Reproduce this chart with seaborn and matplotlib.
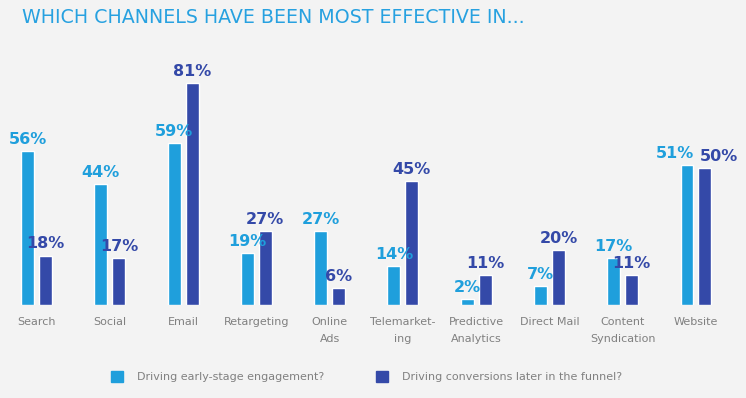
import pandas as pd
import matplotlib.pyplot as plt
import seaborn as sns

channels = ["Search", "Social", "Email", "Retargeting", "Online\nAds", "Telemarket-\ning",
            "Predictive\nAnalytics", "Direct Mail", "Content\nSyndication", "Website"]
early = [56, 44, 59, 19, 27, 14, 2, 7, 17, 51]
later = [18, 17, 81, 27, 6, 45, 11, 20, 11, 50]
series = ["Driving early-stage engagement?", "Driving conversions later in the funnel?"]

light = "#1f9fdc"
dark = "#3449a8"
bg = "#f3f3f3"
grey = "#808080"

df = pd.DataFrame({
    "channel": channels * 2,
    "value": early + later,
    "series": [series[0]] * len(channels) + [series[1]] * len(channels),
})

sns.set_style("white")
plt.rcParams["font.family"] = ["DejaVu Sans"]

fig = plt.figure(figsize=(7.46, 3.98), dpi=100, facecolor=bg)
ax = fig.add_axes([0.0, 0.234, 0.982, 0.62])
ax.set_facecolor(bg)

sns.barplot(data=df, x="channel", y="value", hue="series", palette=[light, dark],
            width=0.49, gap=0.28, saturation=1, ax=ax, legend=False)

# value labels, nudged where neighbours would collide
nudge = {(9, 0): -9, (9, 1): 10}
for j, cont in enumerate(ax.containers):
    col = light if j == 0 else dark
    for i, bar in enumerate(cont):
        x = bar.get_x() + bar.get_width() / 2
        ax.annotate(f"{int(bar.get_height())}%", (x, bar.get_height()),
                    xytext=(nudge.get((i, j), 0), 3), textcoords="offset points",
                    ha="center", va="bottom", fontsize=11.5, fontweight="bold",
                    color=col)

ax.set_ylim(0, 90)
ax.set_xlim(-0.5, 9.5)
ax.set_xlabel("")
ax.set_ylabel("")
ax.set_yticks([])
ax.tick_params(axis="x", length=0, pad=9, labelsize=8, labelcolor=grey)
for lbl in ax.get_xticklabels():
    lbl.set_linespacing(1.8)
sns.despine(ax=ax, left=True, bottom=True)

handles = [plt.Rectangle((0, 0), 1, 1, color=light), plt.Rectangle((0, 0), 1, 1, color=dark)]
fig.legend(handles, series, loc="center left", bbox_to_anchor=(0.135, 0.053), ncol=2,
           frameon=False, fontsize=8, labelcolor=grey, handlelength=1.1, handleheight=1.1,
           columnspacing=4.6, handletextpad=1.3)

fig.text(0.029, 0.955, "WHICH CHANNELS HAVE BEEN MOST EFFECTIVE IN...", color="#27a1e0",
         fontsize=13.7, va="center", ha="left")

fig.savefig("out.png", dpi=100, facecolor=bg)
